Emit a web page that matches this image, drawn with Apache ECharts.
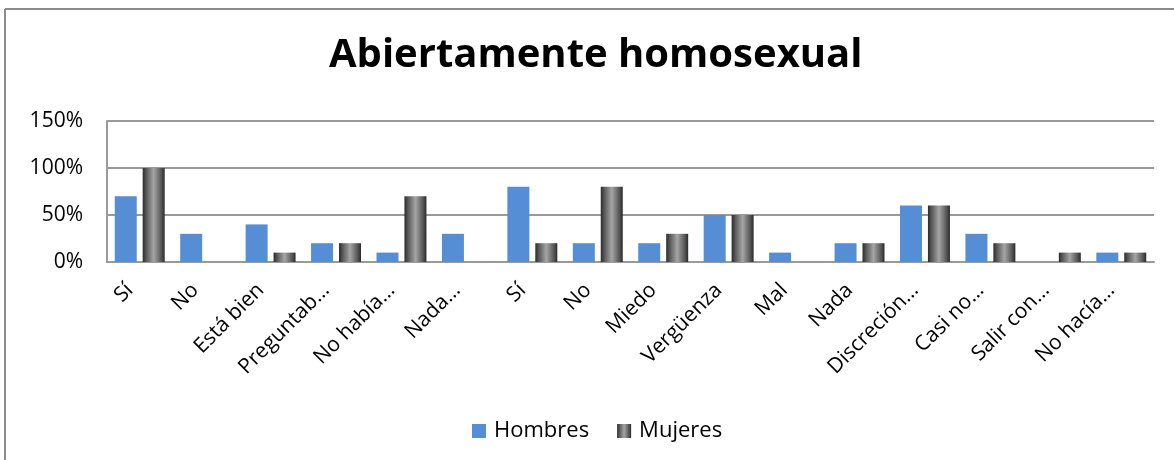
<!DOCTYPE html>
<html>
<head>
<meta charset="utf-8">
<script src="https://cdn.jsdelivr.net/npm/echarts@6/dist/echarts.min.js"></script>
<style>
html,body{margin:0;padding:0;background:#fff;}
#c{width:1174px;height:460px;}
</style>
</head>
<body>
<div id="c"></div>
<script>
var categories = ["Sí","No","Está bien","Preguntab…","No había…","Nada…","Sí","No","Miedo","Vergüenza","Mal","Nada","Discreción…","Casi no…","Salir con…","No hacía…"];
var hombres = [70,30,40,20,10,30,80,20,20,50,10,20,60,30,0,10];
var mujeres = [100,0,10,20,70,0,20,80,30,50,0,20,60,20,10,10];
var yTicks = [0,50,100,150];

var chart = echarts.init(document.getElementById('c'));
var grayFill = new echarts.graphic.LinearGradient(0,0,1,0,[
  {offset:0,color:'#2a2a2a'},
  {offset:0.15,color:'#555'},
  {offset:0.5,color:'#a5a5a5'},
  {offset:0.85,color:'#555'},
  {offset:1,color:'#2a2a2a'}
]);
chart.setOption({
  animation:false,
  backgroundColor:'#fff',
  textStyle:{fontFamily:'Open Sans'},
  title:{
    text:'Abiertamente homosexual',
    left:329,
    top:36,
    padding:0,
    textStyle:{fontFamily:'Open Sans',fontWeight:'bold',fontSize:40,color:'#000'}
  },
  graphic:[
    {type:'line',shape:{x1:5,y1:9,x2:1174,y2:9},style:{stroke:'#8c8c8c',lineWidth:2}},
    {type:'line',shape:{x1:5,y1:9,x2:5,y2:460},style:{stroke:'#8c8c8c',lineWidth:2}}
  ],
  legend:{
    bottom:18,
    left:472,
    padding:0,
    itemWidth:14,
    itemHeight:14,
    itemGap:28,
    icon:'rect',
    textStyle:{fontFamily:'Open Sans',fontSize:22,color:'#000',padding:[0,0,0,3]},
    data:['Hombres','Mujeres']
  },
  grid:{left:107,right:20,top:121,bottom:198,containLabel:false},
  xAxis:{
    type:'category',
    data:categories,
    axisLine:{lineStyle:{color:'#9a9a9a',width:2}},
    axisTick:{show:false},
    axisLabel:{rotate:45,interval:0,fontSize:21,color:'#000',margin:15,padding:[0,14,0,0],fontFamily:'Open Sans'}
  },
  yAxis:{
    type:'value',
    min:0,max:150,interval:50,
    axisLine:{show:true,lineStyle:{color:'#9a9a9a',width:2}},
    axisTick:{show:false},
    splitLine:{lineStyle:{color:'#9a9a9a',width:2}},
    axisLabel:{fontSize:21,color:'#000',margin:24,fontFamily:'Open Sans',
      formatter:function(v){return yTicks.indexOf(v)>=0? v+'%':'';}}
  },
  series:[
    {name:'Hombres',type:'bar',data:hombres,barWidth:22,barGap:'27%',
     itemStyle:{color:'#558ed5'}},
    {name:'Mujeres',type:'bar',data:mujeres,barWidth:22,barGap:'27%',
     itemStyle:{color:grayFill,borderWidth:0}}
  ]
});
</script>
</body>
</html>
